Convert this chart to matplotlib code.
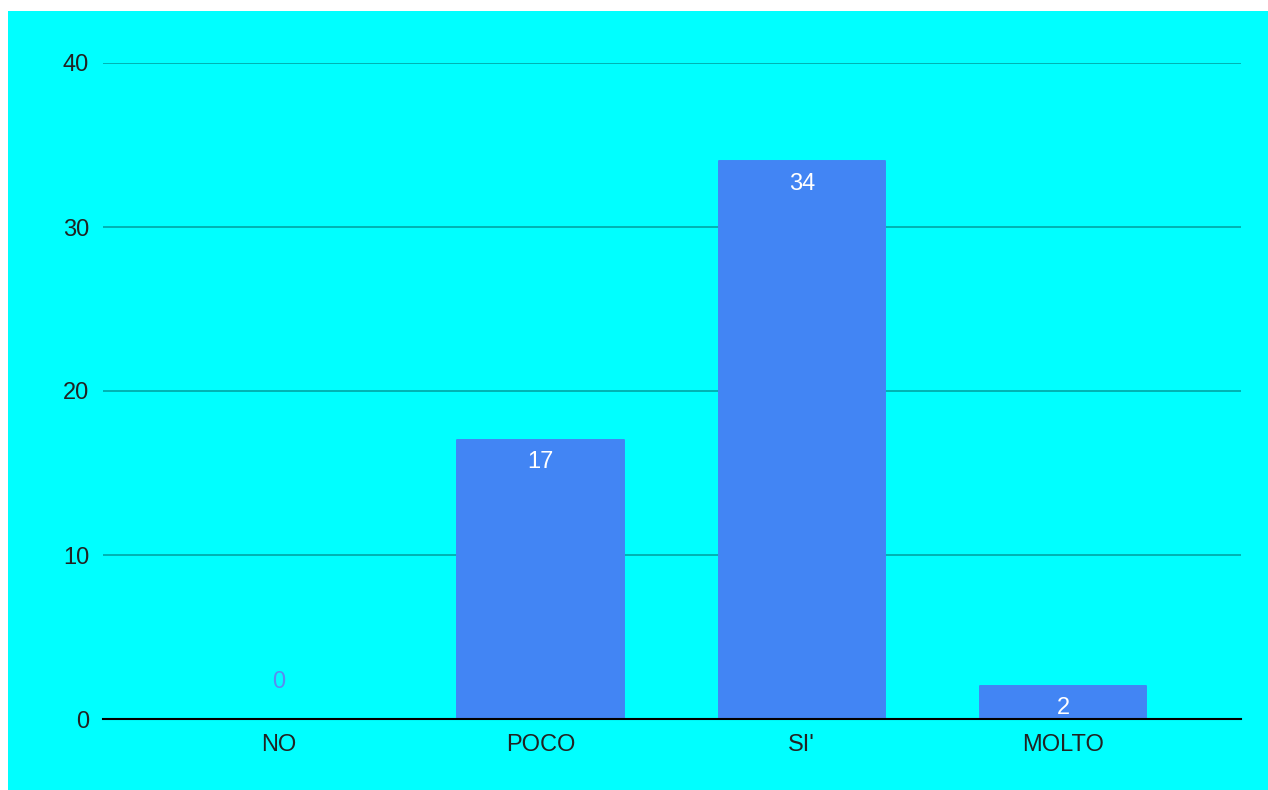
import matplotlib
matplotlib.use("Agg")
import matplotlib.pyplot as plt
from matplotlib.patches import Rectangle

categories = ["NO", "POCO", "SI'", "MOLTO"]
values = [0, 17, 34, 2]
yticks = [0, 10, 20, 30, 40]

plt.rcParams['font.family'] = ['Liberation Sans', 'DejaVu Sans']

W, H = 1268, 790
fig = plt.figure(figsize=(W / 100, H / 100), dpi=100, facecolor='white')
fig.patches.append(Rectangle((8 / W, 0), 1 - 8 / W, 1 - 11 / H, transform=fig.transFigure,
                             facecolor='#00FFFF', edgecolor='none', zorder=-10))

ax = fig.add_axes([103 / W, 71 / H, (1241 - 103) / W, (719 - 63) / H])
ax.set_facecolor('none')
bar_color = '#4285F4'
x = list(range(len(categories)))
bars = ax.bar(x, values, width=0.636, color=bar_color, edgecolor=bar_color,
              linewidth=1.4, joinstyle='round', zorder=3)
ax.set_xlim(-0.673, 3.68)
ax.set_ylim(0, 40)
ax.set_yticks(yticks)
ax.set_yticklabels([str(t) for t in yticks])
ax.set_xticks(x)
ax.set_xticklabels(categories)
ax.tick_params(axis='both', length=0, labelsize=17, colors='#222222')
ax.tick_params(axis='y', pad=10)
ax.tick_params(axis='x', pad=11)
for s in ['top', 'right', 'left']:
    ax.spines[s].set_visible(False)
ax.spines['bottom'].set_color('black')
ax.spines['bottom'].set_linewidth(1.5)
ax.spines['bottom'].set_zorder(4)
ax.grid(axis='y', color='#00A5A5', linewidth=1.2, zorder=1)
ax.set_axisbelow(True)

for xi, v in zip(x, values):
    if v > 0:
        ax.annotate(str(v), (xi, v), xytext=(0, -16), textcoords='offset points',
                    ha='center', va='center', color='white', fontsize=17, zorder=5)
    else:
        ax.annotate(str(v), (xi, v), xytext=(0, 27), textcoords='offset points',
                    ha='center', va='center', color='#5A8CF0', fontsize=17, zorder=5)

fig.savefig('out.png', dpi=100, facecolor='white')
